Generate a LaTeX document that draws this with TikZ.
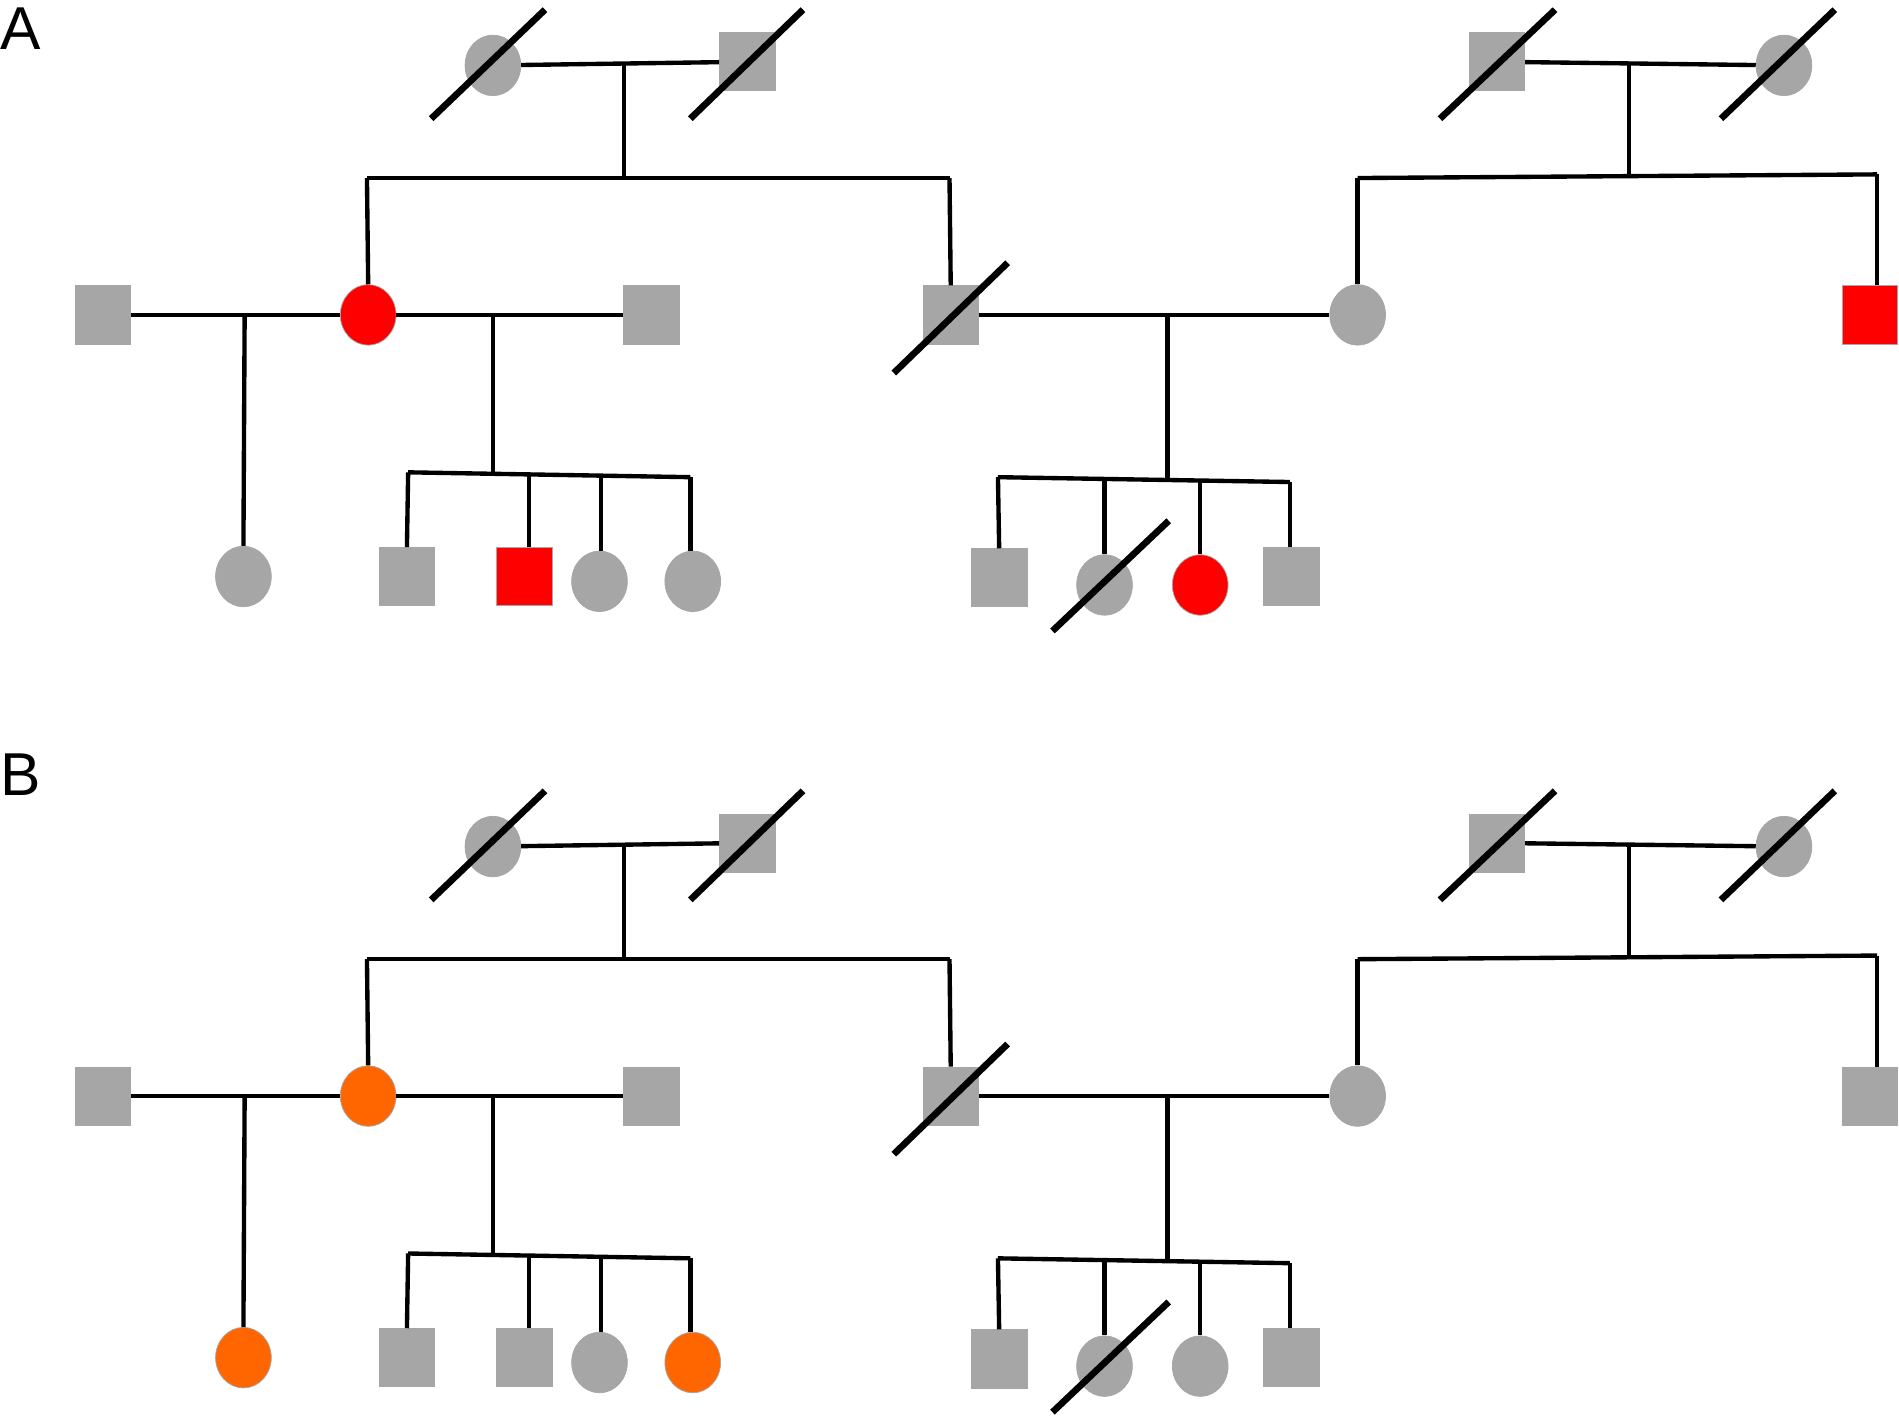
\documentclass[tikz,border=0pt]{standalone}
\usepackage{fontspec}
\setmainfont{Liberation Sans}
\usetikzlibrary{shapes.geometric}
\begin{document}
\begin{tikzpicture}[x=1pt,y=-1pt,
 sq/.style={rectangle,minimum width=46pt,minimum height=48pt,inner sep=0pt,draw=gray!70,line width=0.6pt},
 ci/.style={ellipse,minimum width=46pt,minimum height=50pt,inner sep=0pt,draw=gray!70,line width=0.6pt},
 ln/.style={line width=3.6pt,black},
 sl/.style={line width=5.5pt,black},
 lab/.style={font=\fontsize{50}{50}\selectfont,inner sep=0pt}]
\definecolor{gr}{HTML}{A6A6A6}
\definecolor{rd}{HTML}{FF0000}
\definecolor{og}{HTML}{FF6600}
\useasboundingbox (0,0) rectangle (1568,1172);
\newcommand\pedpanel[8]{%
\begin{scope}[shift={(0,#1)}]
\node[ci,fill=gr] (#2a) at (407,54) {};
\node[sq,fill=gr] (#2b) at (617,51) {};
\draw[ln] (#2a) -- (#2b);
\coordinate (#2m1) at (515,53);
\coordinate (#2s1) at (515,147);
\draw[ln] (#2m1) -- (#2s1);
\coordinate (#2l1) at (303,147); \coordinate (#2r1) at (784,147);
\draw[ln] (#2l1) -- (#2r1);
\node[ci,fill=#3] (#2c) at (304,260) {};
\node[sq,fill=gr] (#2d) at (785,260) {};
\draw[ln] (#2l1) -- (#2c.north);
\draw[ln] (#2r1) -- (#2d.north);
\node[sq,fill=gr] (#2e) at (85,260) {};
\node[sq,fill=gr] (#2f) at (538,260) {};
\draw[ln] (#2e) -- (#2c);
\draw[ln] (#2c) -- (#2f);
\node[ci,fill=#4] (#2g) at (201,476) {};
\coordinate (#2m2) at (202,260);
\draw[ln] (#2m2) -- (#2g.north);
\coordinate (#2m3) at (407,260); \coordinate (#2s3) at (407,390);
\draw[ln] (#2m3) -- (#2s3);
\coordinate (#2l3) at (337,390); \coordinate (#2r3) at (570,394);
\draw[ln] (#2l3) -- (#2r3);
\node[sq,fill=gr] (#2h) at (336,476) {};
\node[sq,fill=#5] (#2i) at (433,476) {};
\node[ci,fill=gr] (#2j) at (495,480) {};
\node[ci,fill=#6] (#2k) at (572,480) {};
\coordinate (#2t1) at (437,393); \coordinate (#2t2) at (496,394);
\draw[ln] (#2l3) -- (#2h.north);
\draw[ln] (#2t1) -- (#2t1 |- #2i.north);
\draw[ln] (#2t2) -- (#2t2 |- #2j.north);
\draw[ln] (#2r3) -- (#2r3 |- #2k.north);
\node[ci,fill=gr] (#2n) at (1121,260) {};
\draw[ln] (#2d) -- (#2n);
\coordinate (#2m4) at (964,260); \coordinate (#2s4) at (964,396);
\draw[ln] (#2m4) -- (#2s4);
\coordinate (#2l4) at (824,394); \coordinate (#2r4) at (1065,398);
\draw[ln] (#2l4) -- (#2r4);
\node[sq,fill=gr] (#2o) at (825,477) {};
\node[ci,fill=gr] (#2p) at (912,483) {};
\node[ci,fill=#7] (#2q) at (991,483) {};
\node[sq,fill=gr] (#2u) at (1066,476) {};
\coordinate (#2t3) at (912,397); \coordinate (#2t4) at (991,397);
\draw[ln] (#2l4) -- (#2o.north);
\draw[ln] (#2t3) -- (#2p.north);
\draw[ln] (#2t4) -- (#2q.north);
\draw[ln] (#2r4) -- (#2r4 |- #2u.north);
\node[sq,fill=gr] (#2v) at (1236,51) {};
\node[ci,fill=gr] (#2w) at (1473,54) {};
\draw[ln] (#2v) -- (#2w);
\coordinate (#2m5) at (1345,52); \coordinate (#2s5) at (1345,145);
\draw[ln] (#2m5) -- (#2s5);
\coordinate (#2l5) at (1121,147); \coordinate (#2r5) at (1550,144);
\draw[ln] (#2l5) -- (#2r5);
\node[sq,fill=#8] (#2x) at (1544,260) {};
\draw[ln] (#2l5) -- (#2n.north);
\draw[ln] (#2r5) -- (#2r5 |- #2x.north);
\draw[sl] (356,98) -- (450,8);
\draw[sl] (570,98) -- (663,8);
\draw[sl] (738,308) -- (832,217);
\draw[sl] (869,521) -- (965,430);
\draw[sl] (1189,98) -- (1284,8);
\draw[sl] (1421,98) -- (1515,8);
\end{scope}}
\pedpanel{0}{A}{rd}{gr}{rd}{gr}{rd}{rd}
\pedpanel{645}{B}{og}{og}{gr}{og}{gr}{gr}
\node[lab,anchor=north west] (LA) at (0,6) {A};
\node[lab,anchor=north west] (LB) at (0,622) {B};
\end{tikzpicture}
\end{document}
